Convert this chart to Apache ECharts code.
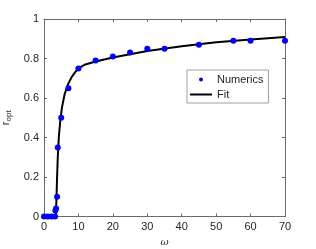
<!DOCTYPE html>
<html>
<head>
<meta charset="utf-8">
<script src="https://cdn.jsdelivr.net/npm/echarts@6/dist/echarts.min.js"></script>
<style>html,body{margin:0;padding:0;background:#fff}#c{width:316px;height:249px}</style>
</head>
<body>
<div id="c"></div>
<script>
var numOmega = [0, 1.1, 2.2, 3.2, 3.3, 3.5, 3.8, 4.0, 5.0, 7.1, 10, 15, 20, 25, 30, 35, 45, 55, 60, 70];
var numR     = [0, 0, 0, 0, 0.03, 0.04, 0.1, 0.35, 0.5, 0.65, 0.75, 0.79, 0.81, 0.83, 0.85, 0.85, 0.87, 0.89, 0.89, 0.89];
var fitOmega = [0, 3.4, 3.6, 3.8, 4.0, 4.3, 4.7, 5.2, 6.0, 7.0, 8.0, 9.0, 10, 12, 15, 20, 25, 30, 40, 50, 60, 70];
var fitR     = [0, 0, 0.08, 0.2, 0.3, 0.4, 0.48, 0.55, 0.62, 0.67, 0.705, 0.73, 0.75, 0.77, 0.785, 0.805, 0.822, 0.838, 0.862, 0.882, 0.896, 0.909];
var xTicks = [0, 10, 20, 30, 40, 50, 60, 70];
var yTicks = [0, 0.2, 0.4, 0.6, 0.8, 1];

var font = 'Liberation Sans, Arial, Helvetica, sans-serif';
var axisCol = '#6b6b6b';
var txtCol = '#262626';

function pairs(a, b) { return a.map(function (v, i) { return [v, b[i]]; }); }

var chart = echarts.init(document.getElementById('c'), null, {renderer: 'canvas'});
var xBase = {
  type: 'value', min: xTicks[0], max: xTicks[xTicks.length - 1], interval: 10,
  axisLine: {show: true, onZero: false, lineStyle: {color: axisCol, width: 1}},
  axisTick: {show: true, inside: true, length: 3, lineStyle: {color: axisCol}},
  splitLine: {show: false}
};
var yBase = {
  type: 'value', min: 0, max: 1, interval: 0.2,
  axisLine: {show: true, onZero: false, lineStyle: {color: axisCol, width: 1}},
  axisTick: {show: true, inside: true, length: 3, lineStyle: {color: axisCol}},
  splitLine: {show: false}
};
chart.setOption({
  animation: false,
  backgroundColor: '#fff',
  textStyle: {fontFamily: font},
  grid: {left: 44, right: 31, top: 19, bottom: 32.5, containLabel: false, outerBoundsMode: 'none'},
  legend: {
    left: 187, top: 70, orient: 'vertical',
    padding: [3, 5, 2, 2],
    itemGap: 2, itemWidth: 22, itemHeight: 4,
    borderColor: '#a0a0a0', borderWidth: 1, backgroundColor: '#fff', borderRadius: 0,
    textStyle: {fontFamily: font, fontSize: 11, color: txtCol, lineHeight: 13},
    data: [
      {name: 'Numerics', icon: 'circle'},
      {name: 'Fit', itemStyle: {opacity: 0}, lineStyle: {color: '#000', width: 2, opacity: 1}}
    ]
  },
  xAxis: [
    Object.assign({}, xBase, {
      position: 'bottom',
      axisLabel: {show: true, color: txtCol, fontSize: 11, margin: 5, fontFamily: font,
        formatter: function (v) { return xTicks.indexOf(v) >= 0 ? String(v) : ''; }},
      name: 'ω', nameLocation: 'middle', nameGap: 21,
      nameTextStyle: {fontFamily: 'DejaVu Serif, serif', fontStyle: 'italic', fontSize: 10, color: txtCol}
    }),
    Object.assign({}, xBase, {position: 'top', axisLabel: {show: false}})
  ],
  yAxis: [
    Object.assign({}, yBase, {
      position: 'left',
      axisLabel: {show: true, color: txtCol, fontSize: 11, margin: 5, fontFamily: font,
        formatter: function (v) { var r = Math.round(v * 10) / 10; return yTicks.indexOf(r) >= 0 ? String(r) : ''; }},
      name: '{r|r}{s|opt}', nameLocation: 'middle', nameGap: 27, nameRotate: 90,
      nameTextStyle: {rich: {
        r: {fontSize: 11, color: txtCol, fontFamily: font},
        s: {fontSize: 8, color: txtCol, fontFamily: font, padding: [6, 0, 0, 0]}
      }}
    }),
    Object.assign({}, yBase, {position: 'right', axisLabel: {show: false}})
  ],
  series: [
    {
      name: 'Fit', type: 'line', data: pairs(fitOmega, fitR),
      showSymbol: false, symbol: 'none', smooth: false,
      lineStyle: {color: '#000', width: 2}, itemStyle: {color: '#000'}, z: 3
    },
    {
      name: 'Numerics', type: 'scatter', data: pairs(numOmega, numR),
      symbol: 'circle', symbolSize: 6,
      itemStyle: {color: '#0000ff', opacity: 1}, z: 4
    }
  ]
});
</script>
</body>
</html>
